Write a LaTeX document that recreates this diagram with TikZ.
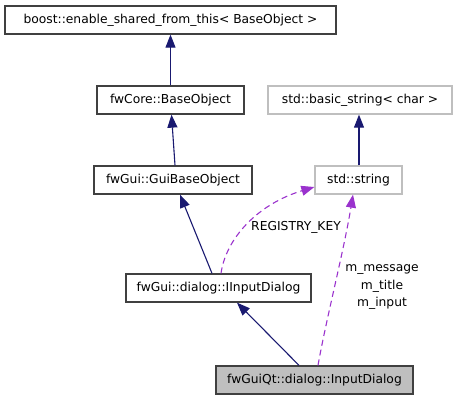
\documentclass[tikz,border=0pt]{standalone}
\usepackage{fontspec}
\setmainfont{DejaVu Sans}
\usetikzlibrary{arrows.meta}

\definecolor{inhblue}{HTML}{191970}
\definecolor{usepurple}{HTML}{9A32CD}
\definecolor{extgray}{HTML}{BFBFBF}

\begin{document}
\begin{tikzpicture}[x=1pt, y=-1pt,
  every node/.style={font=\fontsize{12.3}{17.5}\selectfont, inner sep=0pt},
  cls/.style={draw=black!75, line width=1.3pt, fill=white, minimum height=28pt},
  ext/.style={cls, draw=extgray},
  cur/.style={cls, fill=extgray},
  inh/.style={draw=inhblue, line width=1.1pt, -{Triangle[length=13pt,width=10pt]}},
  use/.style={draw=usepurple, line width=1.1pt, dash pattern=on 6pt off 4pt,
    -{Triangle[length=13pt,width=10pt]}}
]
\useasboundingbox (0,0) rectangle (457,400);

% --- class boxes ---
\node[cls, minimum width=331pt] (boost) at (170.5,20) {boost::enable\_shared\_from\_this< BaseObject >};
\node[cls, minimum width=147pt] (base) at (170.5,100) {fwCore::BaseObject};
\node[cls, minimum width=158pt] (gui) at (173,180) {fwGui::GuiBaseObject};
\node[cls, minimum width=185pt] (iinput) at (218.5,288) {fwGui::dialog::IInputDialog};
\node[cur, minimum width=197pt] (input) at (314.5,380) {fwGuiQt::dialog::InputDialog};

% --- external classes ---
\node[ext, minimum width=184pt] (bstring) at (360,100) {std::basic\_string< char >};
\node[ext, minimum width=87pt] (string) at (358.5,180) {std::string};

% --- inheritance ---
\draw[inh] (base.north) -- (boost.south);
\draw[inh] ([xshift=2pt]gui.north) -- ([xshift=1pt]base.south);
\draw[inh] ([xshift=-6.5pt]iinput.north) -- ([xshift=7pt]gui.south);
\draw[inh] ([xshift=-15.5pt]input.north) -- ([xshift=18.5pt]iinput.south);
\draw[inh] ([xshift=0.5pt]string.north) -- ([xshift=-1pt]bstring.south);

% --- usage (members) ---
\draw[use] ([xshift=2.5pt]iinput.north) .. controls (226,238) and (258,204) .. ([yshift=-7pt]string.west);
\draw[use] ([xshift=3.5pt]input.north) .. controls (326,320) and (344,250) .. ([xshift=-5.5pt]string.south);

% --- member labels ---
\node (lkey) at (296,227) {REGISTRY\_KEY};
\node[align=center] (lmem) at (382,287) {m\_message\\m\_title\\m\_input};

\end{tikzpicture}
\end{document}
